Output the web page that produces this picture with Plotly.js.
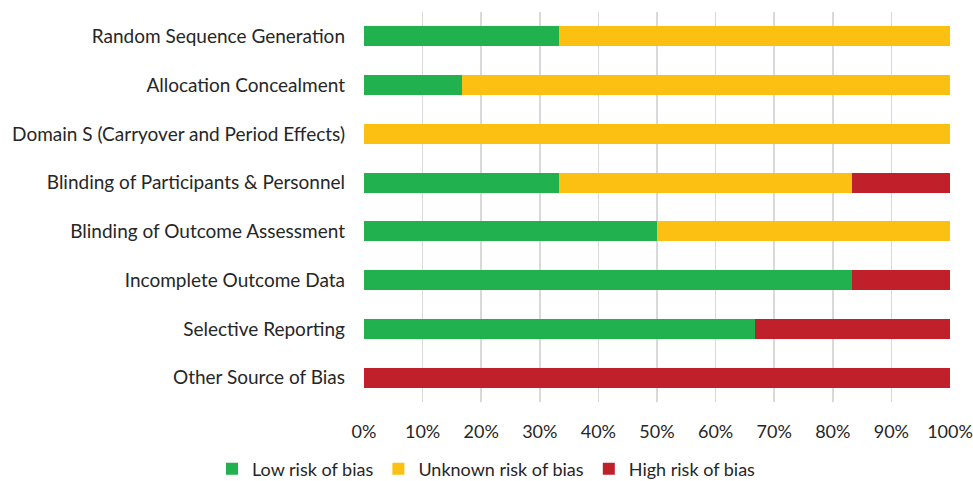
<!DOCTYPE html>
<html><head><meta charset="utf-8">
<script src="https://cdn.plot.ly/plotly-3.0.1.min.js"></script>
<style>body{margin:0;background:#fff}</style>
</head><body><div id="chart" style="width:973px;height:481px"></div>
<script>
const categories = ["Random Sequence Generation","Allocation Concealment","Domain S (Carryover and Period Effects)","Blinding of Participants & Personnel","Blinding of Outcome Assessment","Incomplete Outcome Data","Selective Reporting","Other Source of Bias"];
const lowRisk = [33.3, 16.7, 0, 33.3, 50, 83.3, 66.7, 0];
const unknownRisk = [66.7, 83.3, 100, 50, 50, 0, 0, 0];
const highRisk = [0, 0, 0, 16.7, 0, 16.7, 33.3, 100];
const seriesNames = ["Low risk of bias","Unknown risk of bias","High risk of bias"];
const colors = ["#21b14f","#fbc011","#c0202a"];
const xTicks = [0,10,20,30,40,50,60,70,80,90,100];

const traces = [lowRisk, unknownRisk, highRisk].map((v,i)=>({
  type:'bar', orientation:'h', x:v, y:categories, name:seriesNames[i],
  marker:{color:colors[i]}, hoverinfo:'x+name'
}));
const layout = {
  barmode:'stack', bargap:0.59,
  margin:{l:364,r:23,t:12,b:79, autoexpand:false},
  paper_bgcolor:'#fff', plot_bgcolor:'#fff',
  font:{family:'Lato, "Open Sans", sans-serif', size:18, color:'#262626'},
  xaxis:{range:[0,100], tickvals:xTicks, ticktext:xTicks.map(t=>t+'%'), tickangle:0, showgrid:true, gridcolor:'#d9d9d9', gridwidth:1.5, zeroline:false, showline:false, ticklabelstandoff:17, tickfont:{size:18}, fixedrange:true},
  yaxis:{autorange:'reversed', showgrid:false, zeroline:false, ticklabelstandoff:18, tickfont:{size:19}, fixedrange:true},
  showlegend:true,
  legend:{orientation:'h', xref:'container', yref:'container', x:0.5, xanchor:'center', y:0.025, yanchor:'middle', font:{size:18}, traceorder:'normal'}
};
Plotly.newPlot('chart', traces, layout, {displayModeBar:false, staticPlot:true});
</script></body></html>
